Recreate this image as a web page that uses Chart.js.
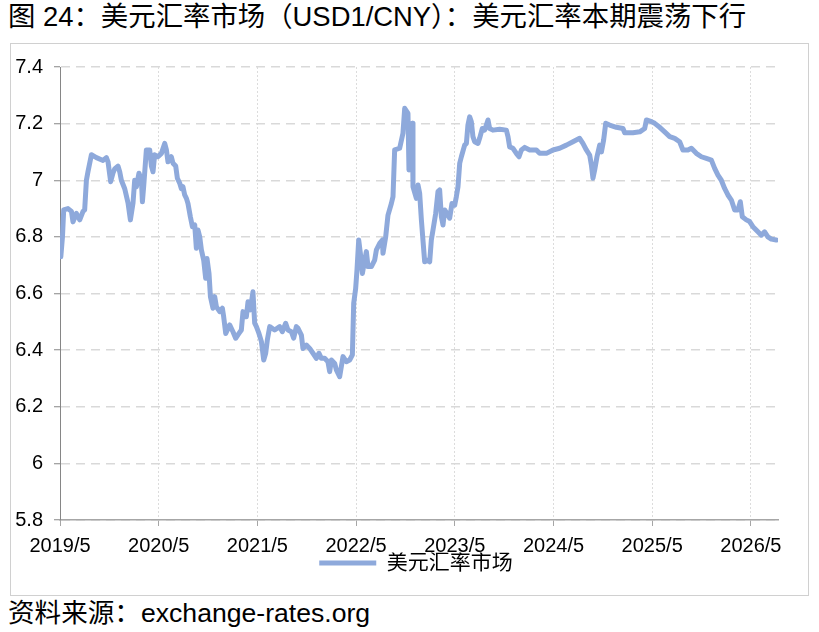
<!DOCTYPE html>
<html><head><meta charset="utf-8">
<script src="https://cdn.jsdelivr.net/npm/chart.js@4.4.0/dist/chart.umd.min.js"></script>
<style>
html,body{margin:0;padding:0;background:#fff;}
body{width:819px;height:632px;position:relative;overflow:hidden;font-family:"Liberation Sans","Noto Sans CJK SC",sans-serif;color:#000;}
#title{position:absolute;left:8px;top:0px;font-size:27.4px;line-height:34px;white-space:nowrap;}
#frame{position:absolute;left:10px;top:43px;width:799px;height:553px;border:1px solid #D0D0D0;box-sizing:border-box;}
#wrap{position:absolute;left:11px;top:44px;width:797px;height:551px;}
#source{position:absolute;left:8px;top:597px;font-size:26.6px;line-height:32px;white-space:nowrap;}
</style>
</head><body>
<div id="title">图 24：美元汇率市场（USD1/CNY）：美元汇率本期震荡下行</div>
<div id="frame"></div>
<div id="wrap"><canvas id="c"></canvas></div>
<div id="source">资料来源：exchange-rates.org</div>
<script>
// months elapsed since 2019/5
const monthsSinceMay2019 = [0.1,0.3,0.45,0.97,1.39,1.58,1.99,2.40,2.80,3.00,3.21,3.40,3.82,4.43,5.23,5.64,5.84,6.16,6.44,6.65,7.05,7.26,7.46,7.87,8.27,8.56,8.88,9.08,9.29,9.60,9.90,10.02,10.18,10.50,10.91,11.11,11.31,11.51,11.91,12.33,12.73,12.94,13.13,13.54,13.74,14.07,14.27,14.55,14.76,14.95,15.16,15.37,15.56,15.85,16.10,16.38,16.58,16.78,16.99,17.19,17.47,17.71,17.87,18.12,18.29,18.60,18.81,19.02,19.42,19.74,19.90,20.15,20.63,21.03,21.36,21.76,22.05,22.25,22.46,22.66,22.86,23.15,23.46,23.67,23.88,24.19,24.49,24.77,25.01,25.21,25.50,26.10,26.71,27.04,27.44,27.72,28.13,28.41,28.74,28.94,29.35,29.54,29.96,30.36,30.76,31.17,31.49,31.78,32.18,32.58,32.79,33.00,33.40,33.60,34.00,34.41,34.82,35.22,35.55,35.71,35.95,36.11,36.32,36.52,36.77,37.05,37.25,37.45,37.86,38.26,38.47,38.87,39.20,39.27,39.60,39.88,40.29,40.49,40.69,41.30,41.70,41.91,42.31,42.43,42.84,42.92,43.33,43.53,43.73,43.94,44.13,44.34,44.74,44.95,45.15,45.35,45.68,45.96,46.16,46.37,46.57,46.77,47.17,47.38,47.66,47.99,48.19,48.39,48.60,48.80,49.20,49.41,49.60,49.81,50.01,50.21,50.42,50.82,51.02,51.35,51.63,51.84,52.04,52.24,52.64,53.46,54.27,54.47,54.67,55.08,55.49,55.81,56.10,56.50,57.11,57.92,58.32,59.14,59.94,60.75,61.57,62.37,63.18,63.58,64.00,64.40,64.61,64.80,65.01,65.29,65.62,65.83,66.10,66.35,66.83,67.65,68.45,68.66,69.67,70.49,71.09,71.30,71.91,72.31,72.92,73.52,74.13,74.74,75.34,75.74,76.35,76.77,77.37,77.98,78.59,79.20,79.60,80.00,80.41,80.81,81.21,81.63,82.03,82.43,82.72,82.96,83.45,83.85,84.25,84.86,85.27,85.67,86.07,86.49,87.09];
const usdCny = [6.73,6.80,6.895,6.90,6.89,6.853,6.883,6.86,6.89,6.895,7.0,7.03,7.09,7.08,7.07,7.08,7.065,6.995,7.025,7.04,7.05,7.03,7.0,6.97,6.92,6.86,6.92,7.0,6.977,7.025,7.0,6.924,6.98,7.107,7.107,7.05,7.03,7.09,7.083,7.095,7.13,7.107,7.065,7.083,7.06,7.05,7.007,6.99,6.97,6.977,6.948,6.936,6.918,6.871,6.836,6.842,6.76,6.824,6.80,6.754,6.718,6.654,6.724,6.67,6.589,6.548,6.589,6.553,6.536,6.548,6.518,6.459,6.489,6.465,6.442,6.459,6.471,6.536,6.518,6.518,6.571,6.542,6.606,6.495,6.483,6.459,6.43,6.365,6.389,6.436,6.483,6.471,6.483,6.465,6.495,6.471,6.465,6.442,6.483,6.477,6.453,6.406,6.418,6.406,6.389,6.371,6.389,6.371,6.371,6.359,6.324,6.365,6.353,6.33,6.306,6.377,6.359,6.365,6.383,6.565,6.618,6.683,6.789,6.742,6.671,6.718,6.748,6.695,6.695,6.718,6.754,6.777,6.789,6.742,6.80,6.877,6.918,6.942,7.107,7.113,7.166,7.254,7.236,7.036,7.201,6.977,6.936,6.983,6.954,6.86,6.789,6.712,6.718,6.712,6.789,6.824,6.883,6.96,6.966,6.871,6.842,6.895,6.877,6.866,6.918,6.912,6.942,6.977,7.06,7.083,7.124,7.13,7.195,7.224,7.207,7.154,7.136,7.13,7.148,7.183,7.177,7.195,7.213,7.183,7.177,7.18,7.177,7.154,7.118,7.113,7.095,7.083,7.107,7.116,7.107,7.107,7.095,7.095,7.107,7.113,7.124,7.136,7.148,7.13,7.107,7.089,7.054,7.007,7.036,7.083,7.124,7.1,7.142,7.201,7.195,7.187,7.183,7.168,7.168,7.171,7.183,7.213,7.207,7.201,7.187,7.171,7.154,7.148,7.136,7.107,7.107,7.113,7.095,7.083,7.077,7.071,7.042,7.018,7.0,6.971,6.948,6.93,6.895,6.895,6.924,6.871,6.86,6.854,6.836,6.818,6.806,6.818,6.80,6.792,6.789];
const xTickLabels = ['2019/5','2020/5','2021/5','2022/5','2023/5','2024/5','2025/5','2026/5'];
const seriesName = '美元汇率市场';
const yMin = 5.8, yMax = 7.4, yStep = 0.2;
const xMaxMonths = 87.3;

const lineColor = '#8EA9DB';
const FONT = '"Liberation Sans","Noto Sans CJK SC",sans-serif';
const points = monthsSinceMay2019.map((m, i) => ({x: m, y: usdCny[i]}));

// the legend overlaps the tick-label band in the reference: nudge it there
const legendNudge = {
  id: 'legendNudge',
  afterLayout(chart) {
    const lg = chart.legend;
    if (!lg) return;
    const dy = (chart.chartArea.bottom + 32.5) - lg.top;
    lg.top += dy; lg.bottom += dy;
    lg.left -= 3; lg.right -= 3;
  }
};

new Chart(document.getElementById('c'), {
  type: 'line',
  data: {
    datasets: [{
      label: seriesName,
      data: points,
      borderColor: lineColor,
      backgroundColor: lineColor,
      borderWidth: 5,
      pointRadius: 0,
      tension: 0,
      borderJoinStyle: 'round',
      borderCapStyle: 'round'
    }]
  },
  plugins: [legendNudge],
  options: {
    responsive: true,
    maintainAspectRatio: false,
    animation: false,
    layout: {padding: {left: 0, right: 30, top: 11, bottom: 0}},
    plugins: {
      tooltip: {enabled: false},
      legend: {
        position: 'bottom',
        fullSize: false,
        labels: {
          boxWidth: 57,
          boxHeight: 5,
          padding: 0,
          color: '#000',
          font: {family: FONT, size: 21},
          generateLabels: (chart) => Chart.defaults.plugins.legend.labels.generateLabels(chart)
            .map(l => Object.assign({}, l, {lineWidth: 0, fillStyle: lineColor}))
        }
      }
    },
    scales: {
      x: {
        type: 'linear',
        min: 0,
        max: xMaxMonths,
        afterBuildTicks: (scale) => { scale.ticks = xTickLabels.map((_, i) => ({value: i * 12})); },
        afterFit: (scale) => { scale.height = 44; },
        ticks: {
          autoSkip: false,
          maxRotation: 0,
          padding: 8,
          color: '#000',
          font: {family: FONT, size: 20},
          callback: (v, i) => xTickLabels[i]
        },
        grid: {color: '#DCDCDC', lineWidth: 1, tickLength: 6, tickColor: '#A6A6A6'},
        border: {color: '#A6A6A6', width: 1.5, dash: [2, 2]}
      },
      y: {
        min: yMin,
        max: yMax,
        afterFit: (scale) => { scale.width = 49; },
        ticks: {
          stepSize: yStep,
          padding: 11,
          color: '#000',
          font: {family: FONT, size: 20},
          callback: (v) => String(Number(v.toFixed(1)))
        },
        grid: {color: '#D9D9D9', lineWidth: 1.5, tickLength: 6, tickColor: '#868686', tickWidth: 1},
        border: {color: '#868686', width: 1, dash: [9, 6]}
      }
    }
  }
});
</script>
</body></html>
